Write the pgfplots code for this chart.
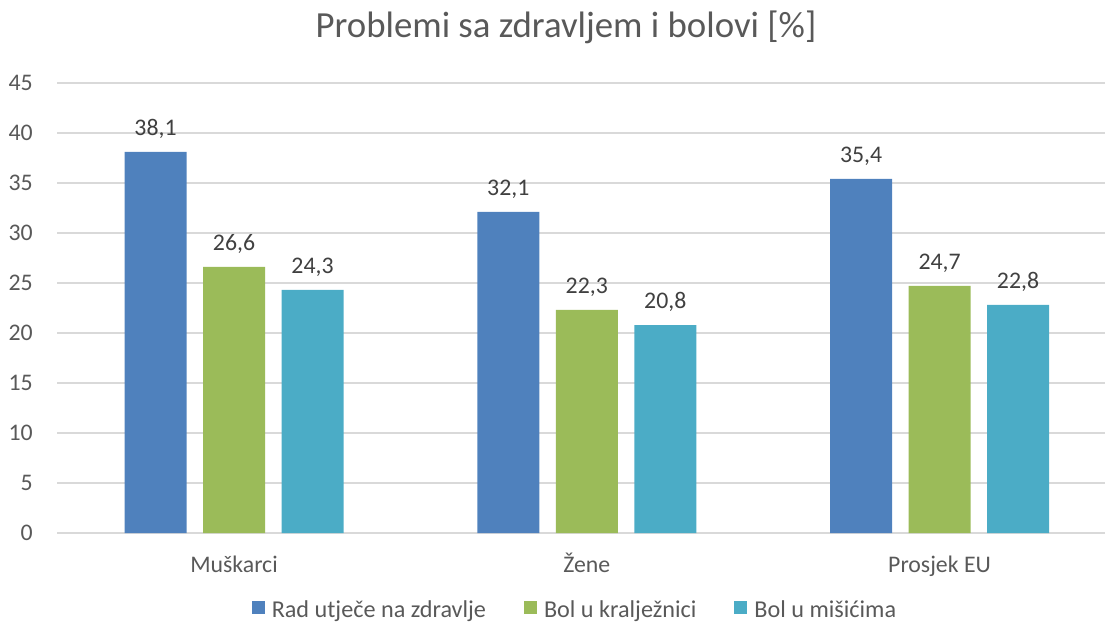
\documentclass[border=0pt]{standalone}
\usepackage{pgfplots}
\pgfplotsset{compat=1.18}
\usepackage{fontspec}
\setmainfont{Carlito}
\definecolor{cBlue}{HTML}{4F81BD}
\definecolor{cGreen}{HTML}{9BBB59}
\definecolor{cTeal}{HTML}{4BACC6}
\definecolor{cText}{HTML}{595959}
\definecolor{cLab}{HTML}{404040}
\definecolor{cGrid}{HTML}{D9D9D9}
\begin{document}
\begin{tikzpicture}
\path[use as bounding box] (0,0) rectangle (1105pt,627pt);
\clip (0,0) rectangle (1105pt,627pt);
\node[anchor=base, font=\fontsize{36.8}{42}\selectfont, text=cText, inner sep=0pt] at (566pt,589pt) {Problemi sa zdravljem i bolovi [\%]};
\begin{axis}[
 at={(57pt,94pt)}, anchor=south west,
 scale only axis, width=1048pt, height=450pt,
 ybar, bar width=0.1758,
 xmin=-0.5018, xmax=2.469, ymin=0, ymax=45,
 xtick={0,1,2}, xticklabels={Muškarci, Žene, Prosjek EU},
 ytick={0,5,...,45},
 axis line style={draw=none},
 major tick length=0pt,
 ymajorgrids, grid style={cGrid, line width=1.3pt},
 /pgf/number format/assume math mode=true,
 tick label style={font=\fontsize{23.8}{28}\selectfont, text=cText},
 yticklabel style={anchor=east, inner sep=0pt, xshift=-24pt},
 xticklabel style={anchor=base, inner sep=0pt, yshift=-39pt},
 nodes near coords={\pgfmathprintnumber[use comma,fixed,fixed zerofill,precision=1]{\pgfplotspointmeta}},
 every node near coord/.append style={font=\fontsize{23.8}{28}\selectfont, text=cLab, anchor=base, inner sep=0pt, yshift=16pt},
 legend columns=3,
 legend style={draw=none, fill=none, at={(0.4933,-0.17)}, anchor=center, font=\fontsize{24.2}{28}\selectfont, text=cText, inner sep=0pt, nodes={inner sep=0pt}, /tikz/every even column/.append style={column sep=38pt}, /tikz/every odd column/.append style={column sep=7pt}},
 legend image code/.code={\fill[#1] (0pt,-4pt) rectangle (13pt,9pt);},
]
\addplot[fill=cBlue, draw=none, bar shift=-0.2225] coordinates {(0,38.1) (1,32.1) (2,35.4)};
\addplot[fill=cGreen, draw=none, bar shift=0] coordinates {(0,26.6) (1,22.3) (2,24.7)};
\addplot[fill=cTeal, draw=none, bar shift=0.2225] coordinates {(0,24.3) (1,20.8) (2,22.8)};
\legend{Rad utječe na zdravlje, Bol u kralježnici, Bol u mišićima}
\end{axis}
\end{tikzpicture}
\end{document}
